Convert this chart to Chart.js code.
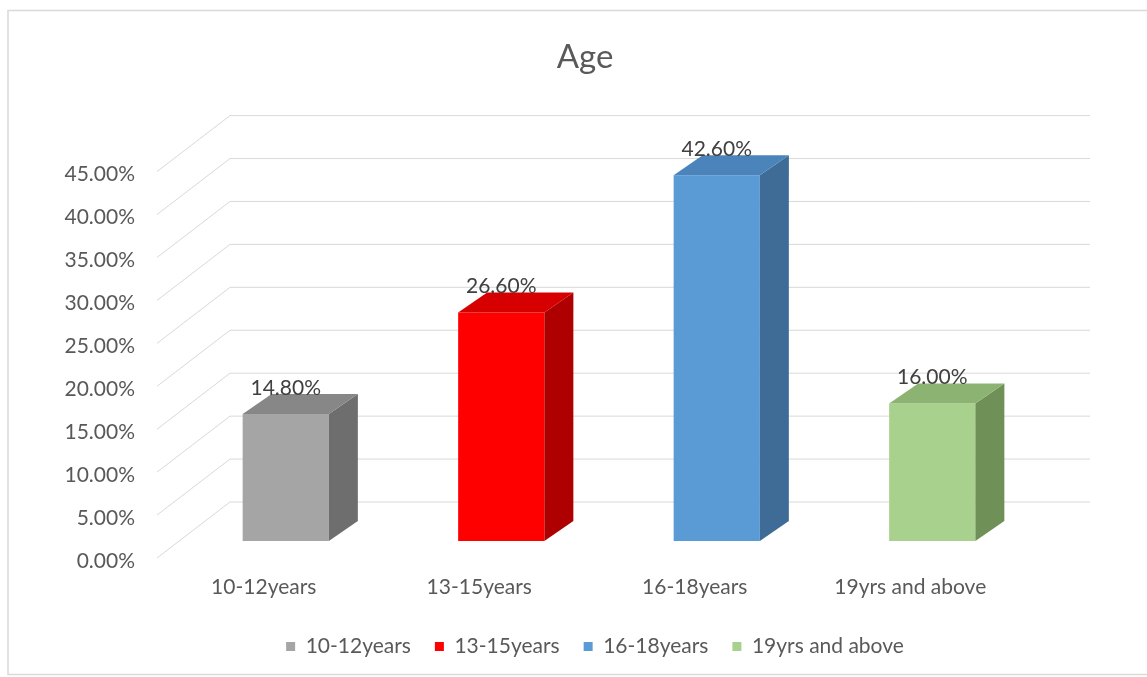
<!DOCTYPE html>
<html>
<head>
<meta charset="utf-8">
<script src="https://cdn.jsdelivr.net/npm/chart.js@4/dist/chart.umd.min.js"></script>
<style>
  html, body { margin: 0; padding: 0; background: #ffffff; }
  #wrap { width: 1147px; height: 677px; position: relative; }
</style>
</head>
<body>
<div id="wrap"><canvas id="c"></canvas></div>
<script>
// ---- data ----
const categories = ['10-12years', '13-15years', '16-18years', '19yrs and above'];
const values = [14.8, 26.6, 42.6, 16.0];
const yTickValues = [0, 5, 10, 15, 20, 25, 30, 35, 40, 45];
const chartTitle = 'Age';

// ---- styles ----
const frontColors = ['#A5A5A5', '#FF0000', '#5B9BD5', '#A9D18E'];
const topColors   = ['#878787', '#D60000', '#4A84BB', '#8DB372'];
const sideColors  = ['#6E6E6E', '#AE0000', '#3E6C97', '#6F9157'];
const textColor = '#595959';
const fontFamily = 'Lato, "Open Sans", "Liberation Sans", sans-serif';
const DX = 29, DY = -20;          // bar depth offset
const WALL_FRONT = -21, WALL_BACK = 52, FRONT_DY = 17, BACK_DY = -39;

const threeD = {
  id: 'threeD',
  beforeDraw(chart) {
    const ctx = chart.ctx;
    ctx.save();
    ctx.fillStyle = '#ffffff';
    ctx.fillRect(0, 0, chart.width, chart.height);
    ctx.strokeStyle = '#D9D9D9';
    ctx.lineWidth = 1.5;
    ctx.strokeRect(8, 10.5, 1200, 664);
    ctx.restore();
  },
  afterLayout(chart) {
    if (chart.titleBlock) { chart.titleBlock.left = 0; chart.titleBlock.right = 1170; }
    if (chart.legend) { chart.legend.left = 0; chart.legend.right = 1190; }
  },
  beforeDatasetsDraw(chart) {
    const ctx = chart.ctx, ys = chart.scales.y, area = chart.chartArea;
    ctx.save();
    ctx.strokeStyle = '#D9D9D9';
    ctx.lineWidth = 1;
    yTickValues.forEach(v => {
      const yp = ys.getPixelForValue(v);
      ctx.beginPath();
      ctx.moveTo(area.left + WALL_FRONT, yp + FRONT_DY);
      ctx.lineTo(area.left + WALL_BACK, yp + BACK_DY);
      ctx.lineTo(area.right + 50, yp + BACK_DY);
      ctx.stroke();
    });
    ctx.restore();
  },
  afterDatasetsDraw(chart) {
    const ctx = chart.ctx;
    const meta = chart.getDatasetMeta(0);
    ctx.save();
    meta.data.forEach((bar, i) => {
      const p = bar.getProps(['x', 'y', 'base', 'width'], true);
      const l = p.x - p.width / 2, r = p.x + p.width / 2;
      // side face
      ctx.fillStyle = sideColors[i];
      ctx.beginPath();
      ctx.moveTo(r, p.y); ctx.lineTo(r + DX, p.y + DY);
      ctx.lineTo(r + DX, p.base + DY); ctx.lineTo(r, p.base);
      ctx.closePath(); ctx.fill();
      // top face
      ctx.fillStyle = topColors[i];
      ctx.beginPath();
      ctx.moveTo(l, p.y); ctx.lineTo(l + DX, p.y + DY);
      ctx.lineTo(r + DX, p.y + DY); ctx.lineTo(r, p.y);
      ctx.closePath(); ctx.fill();
      // value label
      ctx.fillStyle = '#404040';
      ctx.font = '21px ' + fontFamily;
      ctx.textAlign = 'center';
      ctx.textBaseline = 'middle';
      ctx.fillText(values[i].toFixed(2) + '%', p.x, p.y - 26);
    });
    ctx.restore();
  }
};

new Chart(document.getElementById('c'), {
  type: 'bar',
  data: {
    labels: categories,
    datasets: [{
      label: chartTitle,
      data: values,
      backgroundColor: frontColors,
      borderWidth: 0,
      categoryPercentage: 1.0,
      barPercentage: 0.4
    }]
  },
  options: {
    responsive: true,
    maintainAspectRatio: false,
    animation: false,
    layout: { padding: { left: 0, right: 107, top: 30, bottom: 10 } },
    plugins: {
      tooltip: { enabled: false },
      title: {
        display: true,
        text: chartTitle,
        color: textColor,
        font: { family: fontFamily, size: 33, weight: 'normal' },
        padding: { top: 8, bottom: 77 }
      },
      legend: {
        position: 'bottom',
        labels: {
          boxWidth: 9, boxHeight: 9, padding: 24,
          color: textColor,
          font: { family: fontFamily, size: 21 },
          generateLabels: () => categories.map((c, i) => ({
            text: c, fillStyle: frontColors[i], strokeStyle: frontColors[i],
            lineWidth: 0, hidden: false, index: i, fontColor: textColor
          }))
        }
      }
    },
    scales: {
      x: {
        grid: { display: false, drawTicks: false },
        border: { display: false },
        ticks: {
          color: textColor, font: { family: fontFamily, size: 21 },
          padding: 34, labelOffset: -22, maxRotation: 0, autoSkip: false
        },
        afterFit: (s) => { s.height = 71; }
      },
      y: {
        min: 0, max: 45,
        grid: { display: false, drawTicks: false },
        border: { display: false },
        afterBuildTicks: (s) => { s.ticks = yTickValues.map(v => ({ value: v })); },
        ticks: {
          color: textColor, font: { family: fontFamily, size: 21 },
          padding: 43, labelOffset: 20,
          callback: (v) => Number(v).toFixed(2) + '%'
        },
        afterFit: (s) => { s.width = 178; }
      }
    }
  },
  plugins: [threeD]
});
</script>
</body>
</html>
